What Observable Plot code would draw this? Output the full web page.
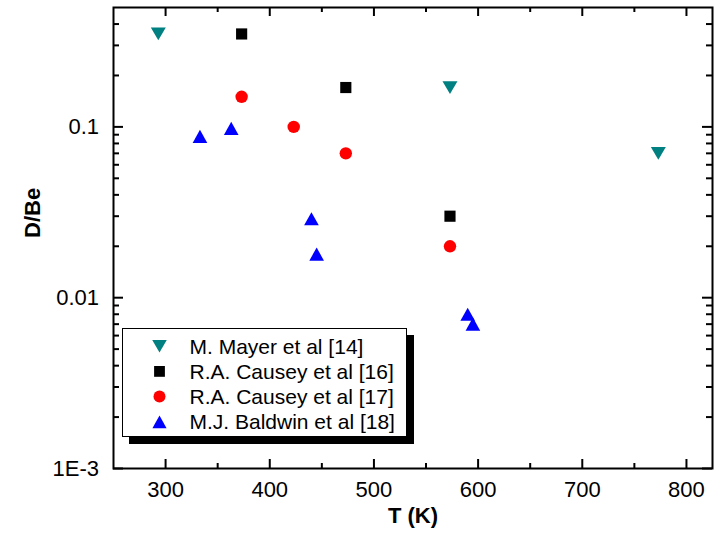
<!DOCTYPE html>
<html>
<head>
<meta charset="utf-8">
<script src="https://cdn.jsdelivr.net/npm/d3@7"></script>
<script src="https://cdn.jsdelivr.net/npm/@observablehq/plot@0.6"></script>
<style>
  body { margin: 0; background: white; }
  #wrap { position: relative; width: 720px; height: 535px; font-family: "Liberation Sans", Arial, sans-serif; }
  #legend { position: absolute; left: 122px; top: 328px; width: 285px; height: 109px; box-sizing: border-box;
            border: 1.5px solid black; background: white; box-shadow: 7px 7px 0 #000; }
</style>
</head>
<body>
<div id="wrap"><div id="legend"></div></div>
<script>
// ---- data ----
const mayerT = [293, 573, 773];
const mayerD = [0.35, 0.17, 0.07];
const causey16T = [373, 473, 573];
const causey16D = [0.35, 0.17, 0.03];
const causey17T = [373, 423, 473, 573];
const causey17D = [0.15, 0.10, 0.07, 0.02];
const baldwinT = [333, 363, 440, 445, 590, 595];
const baldwinD = [0.088, 0.098, 0.029, 0.018, 0.008, 0.007];

const seriesNames = ["M. Mayer et al [14]", "R.A. Causey et al [16]", "R.A. Causey et al [17]", "M.J. Baldwin et al [18]"];
const seriesColors = ["#008080", "#000000", "#ff0000", "#0000ff"];

const xMajor = [300, 400, 500, 600, 700, 800];
const xMinor = [350, 450, 550, 650, 750];
const yMajor = [0.001, 0.01, 0.1];
const yMajorLabels = ["1E-3", "0.01", "0.1"];
const yMinor = [2,3,4,5,6,7,8,9].map(m => m * 0.001)
  .concat([2,3,4,5,6,7,8,9].map(m => m * 0.01))
  .concat([2,3,4].map(m => m * 0.1));

// ---- symbols (centered on bounding box) ----
const triDown = { draw(ctx, size) { const s = Math.sqrt(size / Math.PI), hw = s * 1.21, hh = s * 1.03;
  ctx.moveTo(-hw, -hh); ctx.lineTo(hw, -hh); ctx.lineTo(0, hh); ctx.closePath(); } };
const triUp = { draw(ctx, size) { const s = Math.sqrt(size / Math.PI), hw = s * 1.18, hh = s * 1.06;
  ctx.moveTo(-hw, hh); ctx.lineTo(hw, hh); ctx.lineTo(0, -hh); ctx.closePath(); } };
const square = { draw(ctx, size) { const s = Math.sqrt(size / Math.PI) * 0.9;
  ctx.rect(-s, -s, 2 * s, 2 * s); } };
const circle = { draw(ctx, size) { const s = Math.sqrt(size / Math.PI);
  ctx.moveTo(s, 0); ctx.arc(0, 0, s, 0, 2 * Math.PI); } };
const seriesSymbols = [triDown, square, circle, triUp];

const rows = (T, D) => T.map((t, i) => ({ t, d: D[i] }));
const seriesData = [rows(mayerT, mayerD), rows(causey16T, causey16D), rows(causey17T, causey17D), rows(baldwinT, baldwinD)];

const W = 720, H = 535, mL = 113, mR = 8, mT = 7, mB = 67;
const pw = W - mL - mR, ph = H - mT - mB;
const font = "Liberation Sans, Arial, sans-serif";

const plot = Plot.plot({
  width: W, height: H,
  marginLeft: mL, marginRight: mR, marginTop: mT, marginBottom: mB,
  style: { fontFamily: font, fontSize: "22px", color: "black", background: "white", overflow: "visible" },
  x: { type: "linear", domain: [250, 825] },
  y: { type: "log", domain: [0.001, 0.5] },
  marks: [
    // inward ticks
    Plot.tickX(xMajor, { x: d => d, insetTop: ph - 9, stroke: "black", strokeWidth: 2 }),
    Plot.tickX(xMajor, { x: d => d, insetBottom: ph - 9, stroke: "black", strokeWidth: 2 }),
    Plot.tickX(xMinor, { x: d => d, insetTop: ph - 5, stroke: "black", strokeWidth: 2 }),
    Plot.tickX(xMinor, { x: d => d, insetBottom: ph - 5, stroke: "black", strokeWidth: 2 }),
    Plot.tickY(yMajor, { y: d => d, insetRight: pw - 10, stroke: "black", strokeWidth: 2 }),
    Plot.tickY(yMajor, { y: d => d, insetLeft: pw - 10, stroke: "black", strokeWidth: 2 }),
    Plot.tickY(yMinor, { y: d => d, insetRight: pw - 6, stroke: "black", strokeWidth: 2 }),
    Plot.tickY(yMinor, { y: d => d, insetLeft: pw - 6, stroke: "black", strokeWidth: 2 }),
    Plot.frame({ stroke: "black", strokeWidth: 2 }),
    // tick labels
    Plot.axisX({ ticks: xMajor, tickSize: 0, tickPadding: 12.5, label: null, fontSize: 22 }),
    Plot.axisY({ ticks: yMajor, tickSize: 0, tickPadding: 14.5, label: null, fontSize: 22,
      tickFormat: d => yMajorLabels[yMajor.indexOf(d)] }),
    // axis titles
    Plot.text(["T (K)"], { frameAnchor: "bottom", dy: 54, fontWeight: "bold", fontSize: 22, text: d => d }),
    Plot.text(["D/Be"], { frameAnchor: "left", dx: -81, rotate: -90, fontWeight: "bold", fontSize: 22, text: d => d }),
    // data
    ...seriesData.map((data, i) => Plot.dot(data, {
      x: "t", y: "d", r: 6.2, symbol: () => seriesSymbols[i], fill: seriesColors[i], stroke: "none"
    }))
  ]
});
document.getElementById("wrap").prepend(plot);

// legend
const lg = d3.select("#legend").append("svg").attr("width", 282).attr("height", 106)
  .style("position", "absolute").style("left", 0).style("top", 0);
seriesNames.forEach((name, i) => {
  const cy = 17.2 + i * 25.2;
  lg.append("path").attr("transform", `translate(36.5,${cy})`)
    .attr("d", d3.symbol(seriesSymbols[i], 6 * 6 * Math.PI)()).attr("fill", seriesColors[i]);
  lg.append("text").attr("x", 66.5).attr("y", cy).attr("dy", "0.36em")
    .attr("font-family", font).attr("font-size", 21).attr("fill", "black").text(name);
});
</script>
</body>
</html>
